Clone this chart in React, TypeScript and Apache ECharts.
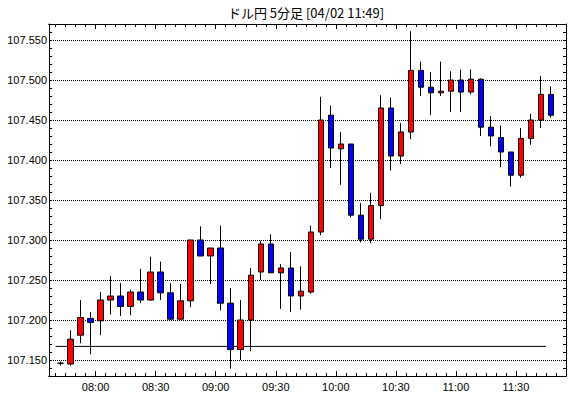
import React, { useEffect, useRef } from "react";
import * as echarts from "echarts";

const titleText = "ドル円 5分足 [04/02 11:49]";

const times = [
  "07:40", "07:45", "07:50", "07:55", "08:00", "08:05", "08:10", "08:15", "08:20", "08:25",
  "08:30", "08:35", "08:40", "08:45", "08:50", "08:55", "09:00", "09:05", "09:10", "09:15",
  "09:20", "09:25", "09:30", "09:35", "09:40", "09:45", "09:50", "09:55", "10:00", "10:05",
  "10:10", "10:15", "10:20", "10:25", "10:30", "10:35", "10:40", "10:45", "10:50", "10:55",
  "11:00", "11:05", "11:10", "11:15", "11:20", "11:25", "11:30", "11:35", "11:40", "11:45",
];
const opens = [
  107.146, 107.145, 107.181, 107.202, 107.199, 107.225, 107.230, 107.217, 107.235, 107.225,
  107.260, 107.234, 107.201, 107.224, 107.300, 107.280, 107.290, 107.221, 107.163, 107.200,
  107.260, 107.295, 107.259, 107.265, 107.230, 107.235, 107.310, 107.456, 107.414, 107.420,
  107.331, 107.301, 107.343, 107.465, 107.405, 107.435, 107.512, 107.491, 107.484, 107.486,
  107.500, 107.485, 107.501, 107.441, 107.428, 107.410, 107.381, 107.427, 107.450, 107.482,
];
const closes = [
  107.146, 107.176, 107.203, 107.197, 107.225, 107.230, 107.217, 107.235, 107.225, 107.260,
  107.234, 107.201, 107.224, 107.300, 107.280, 107.290, 107.221, 107.163, 107.200, 107.256,
  107.295, 107.259, 107.265, 107.230, 107.236, 107.310, 107.450, 107.415, 107.420, 107.331,
  107.301, 107.343, 107.465, 107.405, 107.435, 107.512, 107.491, 107.484, 107.486, 107.500,
  107.485, 107.501, 107.441, 107.430, 107.410, 107.381, 107.427, 107.450, 107.482, 107.456,
];
const lows = [
  107.143, 107.143, 107.171, 107.157, 107.181, 107.207, 107.205, 107.206, 107.221, 107.224,
  107.225, 107.200, 107.200, 107.216, 107.280, 107.245, 107.212, 107.139, 107.150, 107.161,
  107.250, 107.259, 107.214, 107.210, 107.213, 107.233, 107.306, 107.390, 107.369, 107.328,
  107.297, 107.296, 107.326, 107.387, 107.395, 107.426, 107.480, 107.456, 107.480, 107.460,
  107.460, 107.482, 107.430, 107.417, 107.391, 107.367, 107.378, 107.419, 107.440, 107.453,
];
const highs = [
  107.148, 107.187, 107.225, 107.210, 107.235, 107.255, 107.246, 107.238, 107.264, 107.279,
  107.273, 107.246, 107.245, 107.300, 107.317, 107.290, 107.318, 107.240, 107.225, 107.265,
  107.299, 107.307, 107.270, 107.285, 107.267, 107.318, 107.479, 107.468, 107.435, 107.420,
  107.346, 107.359, 107.481, 107.478, 107.446, 107.561, 107.523, 107.510, 107.523, 107.511,
  107.513, 107.513, 107.502, 107.455, 107.443, 107.410, 107.440, 107.458, 107.505, 107.492,
];

const yLabelValues = [107.15, 107.2, 107.25, 107.3, 107.35, 107.4, 107.45, 107.5, 107.55];
const xLabelTimes = ["08:00", "08:30", "09:00", "09:30", "10:00", "10:30", "11:00", "11:30"];
const baseLine = 107.167;
const baseLineFrom = "07:40";
const baseLineTo = "11:45";

const yMin = 107.13;
const yMax = 107.57;
const xMinMinutes = 456.7;
const xMaxMinutes = 715;
const slotMinutes = 5;

const toMin = (s: string) => {
  const [h, m] = s.split(":").map(Number);
  return h * 60 + m;
};
const toHHMM = (v: number) => {
  const h = Math.floor(v / 60);
  const m = Math.round(v - h * 60);
  return String(h).padStart(2, "0") + ":" + String(m).padStart(2, "0");
};

export default function App() {
  const ref = useRef<HTMLDivElement>(null);
  useEffect(() => {
    if (!ref.current) return;
    const chart = echarts.init(ref.current, undefined, { renderer: "svg" });

    const candles = times.map((t, i) => [
      toMin(t) + slotMinutes / 2,
      opens[i],
      closes[i],
      lows[i],
      highs[i],
    ]);

    const minorX: number[] = [];
    for (let t = toMin(times[0]); t <= xMaxMinutes; t += slotMinutes) minorX.push(t);
    const majorX = xLabelTimes.map(toMin);
    const minorY: number[] = [];
    for (let i = 1; i < Math.round((yMax - yMin) * 100); i++) {
      minorY.push(Math.round((yMin + i * 0.01) * 1000) / 1000);
    }

    const font = "Liberation Sans";
    const axisLine = { show: true, lineStyle: { color: "#000", width: 1 } };
    const xAxisDef = (position: string, ticks: number[], len: number, labels: boolean) => ({
      type: "value",
      position,
      min: xMinMinutes,
      max: xMaxMinutes,
      axisLine,
      axisTick: {
        show: true,
        inside: true,
        length: len,
        customValues: ticks,
        lineStyle: { color: "#000", width: 1 },
      },
      axisLabel: labels
        ? {
            show: true,
            customValues: ticks,
            formatter: (v: number) => toHHMM(v),
            color: "#000",
            fontFamily: font,
            fontSize: 11,
            margin: 5,
          }
        : { show: false },
      splitLine: { show: false },
    });
    const yAxisDef = (position: string, labels: boolean) => ({
      type: "value",
      position,
      min: yMin,
      max: yMax,
      axisLine,
      axisTick: {
        show: true,
        inside: true,
        length: 3,
        customValues: minorY,
        lineStyle: { color: "#000", width: 1 },
      },
      axisLabel: labels
        ? {
            show: true,
            customValues: yLabelValues,
            formatter: (v: number) => v.toFixed(3),
            color: "#000",
            fontFamily: font,
            fontSize: 11,
            margin: 2,
          }
        : { show: false },
      splitLine: { show: false },
    });

    chart.setOption({
      animation: false,
      backgroundColor: "#fff",
      grid: { left: 49, right: 4, top: 24, bottom: 22, containLabel: false },
      graphic: [
        {
          type: "text",
          x: 306,
          y: 12,
          style: {
            text: titleText,
            font: '13px "Noto Sans CJK JP"',
            fill: "#000",
            textAlign: "center",
            textVerticalAlign: "middle",
            align: "center",
            verticalAlign: "middle",
          },
        },
      ],
      xAxis: [
        xAxisDef("bottom", minorX, 3, false),
        xAxisDef("bottom", majorX, 5, true),
        xAxisDef("top", minorX, 3, false),
        xAxisDef("top", majorX, 5, false),
      ],
      yAxis: [
        yAxisDef("left", true),
        yAxisDef("right", false),
        {
          type: "value",
          position: "left",
          min: yMin,
          max: yMax,
          axisLine: { show: false },
          axisTick: { show: false, customValues: yLabelValues },
          axisLabel: { show: false },
          splitLine: { show: true, lineStyle: { color: "#000", width: 1, type: "dotted" } },
        },
      ],
      series: [
        {
          type: "line",
          xAxisIndex: 0,
          yAxisIndex: 0,
          data: [
            [toMin(baseLineFrom), baseLine],
            [toMin(baseLineTo), baseLine],
          ],
          symbol: "none",
          silent: true,
          z: 1,
          lineStyle: { color: "#000", width: 1 },
        },
        {
          type: "candlestick",
          xAxisIndex: 0,
          yAxisIndex: 0,
          data: candles,
          encode: { x: 0, y: [1, 2, 3, 4] },
          barWidth: 6,
          z: 2,
          itemStyle: {
            color: "#ff0000",
            color0: "#0000ff",
            borderColor: "#000",
            borderColor0: "#000",
            borderColorDoji: "#000",
            borderWidth: 1,
          },
        },
      ],
    });
    return () => chart.dispose();
  }, []);
  return (
    <div
      ref={ref}
      style={{ position: "absolute", left: 0, top: 0, width: 570, height: 398, background: "#fff" }}
    />
  );
}
